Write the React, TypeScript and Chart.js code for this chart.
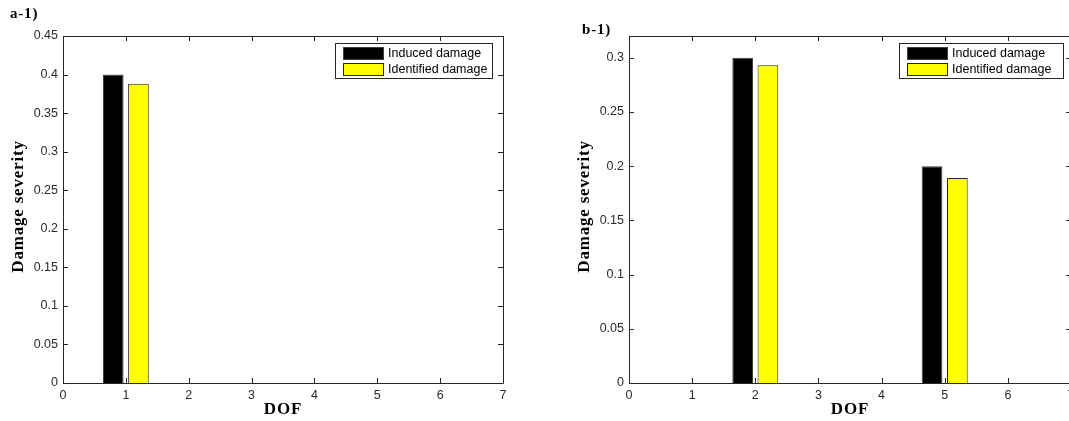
import React, { useEffect, useRef } from "react";
import { Chart, registerables } from "chart.js";

Chart.register(...registerables);

// ---------- data ----------
const dofLabels = ["0", "1", "2", "3", "4", "5", "6", "7"];
const seriesNames = ["Induced damage", "Identified damage"];

const a1Induced = [null, 0.4, null, null, null, null, null, null];
const a1Identified = [null, 0.388, null, null, null, null, null, null];
const a1YTicks = [0, 0.05, 0.1, 0.15, 0.2, 0.25, 0.3, 0.35, 0.4, 0.45];
const a1YMax = 0.45;

const b1Induced = [null, null, 0.3, null, null, 0.2, null, null];
const b1Identified = [null, null, 0.293, null, null, 0.189, null, null];
const b1YTicks = [0, 0.05, 0.1, 0.15, 0.2, 0.25, 0.3];
const b1YMax = 0.32;

const xTitle = "DOF";
const yTitle = "Damage severity";

// ---------- styles ----------
const TICK_FONT = { family: "'Liberation Sans', Arial, sans-serif", size: 12.5 };
const TICK_COLOR = "#2a2a2a";
const SERIF_BOLD = "bold 17px 'Liberation Serif', 'Times New Roman', serif";

const matlabPlugin = {
  id: "matlabFrame",
  afterDatasetsDraw(chart: any, _args: any, opts: any) {
    const { ctx, chartArea: ca, scales } = chart;
    const xs = scales.x;
    const ys = scales.y;
    const L = Math.round(ca.left);
    const R = Math.round(ca.right);
    const T = Math.round(ca.top);
    const B = Math.round(ca.bottom);
    ctx.save();
    // frame
    ctx.strokeStyle = "#262626";
    ctx.lineWidth = 1;
    ctx.beginPath();
    ctx.rect(L + 0.5, T + 0.5, R - L, B - T);
    ctx.stroke();
    // inward ticks
    const tl = 5;
    ctx.beginPath();
    xs.ticks.forEach((_t: any, i: number) => {
      const px = Math.round(xs.getPixelForTick(i)) + 0.5;
      ctx.moveTo(px, B);
      ctx.lineTo(px, B - tl);
      ctx.moveTo(px, T);
      ctx.lineTo(px, T + tl);
    });
    ys.ticks.forEach((t: any) => {
      const py = Math.round(ys.getPixelForValue(t.value)) + 0.5;
      ctx.moveTo(L, py);
      ctx.lineTo(L + tl, py);
      ctx.moveTo(R, py);
      ctx.lineTo(R - tl, py);
    });
    ctx.stroke();

    // legend
    const lw = opts.legendWidth;
    const lx = R - opts.legendRightGap - lw;
    const ly = T + 7;
    const lh = 35;
    ctx.fillStyle = "#ffffff";
    ctx.fillRect(lx, ly, lw, lh);
    ctx.strokeStyle = "#262626";
    ctx.strokeRect(lx + 0.5, ly + 0.5, lw, lh);
    const sw = 41;
    const sh = 13;
    const rows = [
      { fill: "#000000", stroke: "#404040", y: ly + 4 },
      { fill: "#ffff00", stroke: "#262626", y: ly + 20 },
    ];
    ctx.font = "12.5px 'Liberation Sans', Arial, sans-serif";
    ctx.textBaseline = "middle";
    ctx.textAlign = "left";
    rows.forEach((r, i) => {
      ctx.fillStyle = r.fill;
      ctx.fillRect(lx + 8, r.y, sw, sh);
      ctx.strokeStyle = r.stroke;
      ctx.strokeRect(lx + 8.5, r.y + 0.5, sw - 1, sh - 1);
      ctx.fillStyle = "#000";
      ctx.fillText(seriesNames[i], lx + 8 + sw + 4, r.y + sh / 2 + 0.5);
    });

    // titles
    ctx.fillStyle = "#000";
    ctx.font = SERIF_BOLD;
    (ctx as any).letterSpacing = "0.8px";
    ctx.textAlign = "center";
    ctx.textBaseline = "middle";
    ctx.fillText(xTitle, (L + R) / 2, opts.xTitleY);
    ctx.save();
    ctx.translate(opts.yTitleX, (T + B) / 2 - 3);
    ctx.rotate(-Math.PI / 2);
    ctx.fillText(yTitle, 0, 0);
    ctx.restore();
    ctx.font = "bold 15px 'Liberation Serif', 'Times New Roman', serif";
    ctx.textAlign = "left";
    ctx.fillText(opts.panel, opts.panelX, opts.panelY);
    (ctx as any).letterSpacing = "0px";
    ctx.restore();
  },
};

function makeConfig(
  induced: (number | null)[],
  identified: (number | null)[],
  yTicks: number[],
  yMax: number,
  yAxisWidth: number,
  rightPad: number,
  pluginOpts: any
): any {
  return {
    type: "bar",
    data: {
      labels: dofLabels,
      datasets: [
        {
          label: seriesNames[0],
          data: induced,
          backgroundColor: "#000000",
          borderColor: "#404040",
          borderWidth: 1,
        },
        {
          label: seriesNames[1],
          data: identified,
          backgroundColor: "#ffff00",
          borderColor: "#262626",
          borderWidth: 1,
        },
      ],
    },
    options: {
      animation: false,
      responsive: false,
      events: [],
      layout: { padding: { top: 36, right: rightPad, left: 0, bottom: 0 } },
      datasets: { bar: { categoryPercentage: 0.8, barPercentage: 0.82 } },
      scales: {
        x: {
          type: "category",
          offset: false,
          grid: { display: false, drawTicks: false },
          border: { display: false },
          ticks: {
            autoSkip: false,
            maxRotation: 0,
            padding: 5,
            font: TICK_FONT,
            color: TICK_COLOR,
          },
          afterFit: (s: any) => {
            s.height = 38;
          },
        },
        y: {
          min: 0,
          max: yMax,
          grid: { display: false, drawTicks: false },
          border: { display: false },
          ticks: {
            padding: 5,
            font: TICK_FONT,
            color: TICK_COLOR,
            callback: (v: any) => String(Math.round(Number(v) * 100) / 100),
          },
          afterBuildTicks: (s: any) => {
            s.ticks = yTicks.map((v) => ({ value: v }));
          },
          afterFit: (s: any) => {
            s.width = yAxisWidth;
          },
        },
      },
      plugins: {
        legend: { display: false },
        tooltip: { enabled: false },
        matlabFrame: pluginOpts,
      },
    },
    plugins: [matlabPlugin],
  };
}

export default function App() {
  const leftRef = useRef<HTMLCanvasElement | null>(null);
  const rightRef = useRef<HTMLCanvasElement | null>(null);

  useEffect(() => {
    const c1 = new Chart(
      leftRef.current as HTMLCanvasElement,
      makeConfig(a1Induced, a1Identified, a1YTicks, a1YMax, 63, 27, {
        legendWidth: 157,
        legendRightGap: 11,
        panel: "a-1)",
        panelX: 10,
        panelY: 14,
        xTitleY: 410,
        yTitleX: 19,
      })
    );
    const c2 = new Chart(
      rightRef.current as HTMLCanvasElement,
      makeConfig(b1Induced, b1Identified, b1YTicks, b1YMax, 89, 20, {
        legendWidth: 164,
        legendRightGap: 8,
        panel: "b-1)",
        panelX: 42,
        panelY: 30,
        xTitleY: 410,
        yTitleX: 45,
      })
    );
    return () => {
      c1.destroy();
      c2.destroy();
    };
  }, []);

  return (
    <div
      style={{
        position: "fixed",
        left: 0,
        top: 0,
        width: 1069,
        height: 421,
        overflow: "hidden",
        background: "#ffffff",
      }}
    >
      <canvas
        ref={leftRef}
        width={530}
        height={421}
        style={{ position: "absolute", left: 0, top: 0, width: 530, height: 421 }}
      />
      <canvas
        ref={rightRef}
        width={551}
        height={421}
        style={{ position: "absolute", left: 540, top: 0, width: 551, height: 421 }}
      />
    </div>
  );
}
